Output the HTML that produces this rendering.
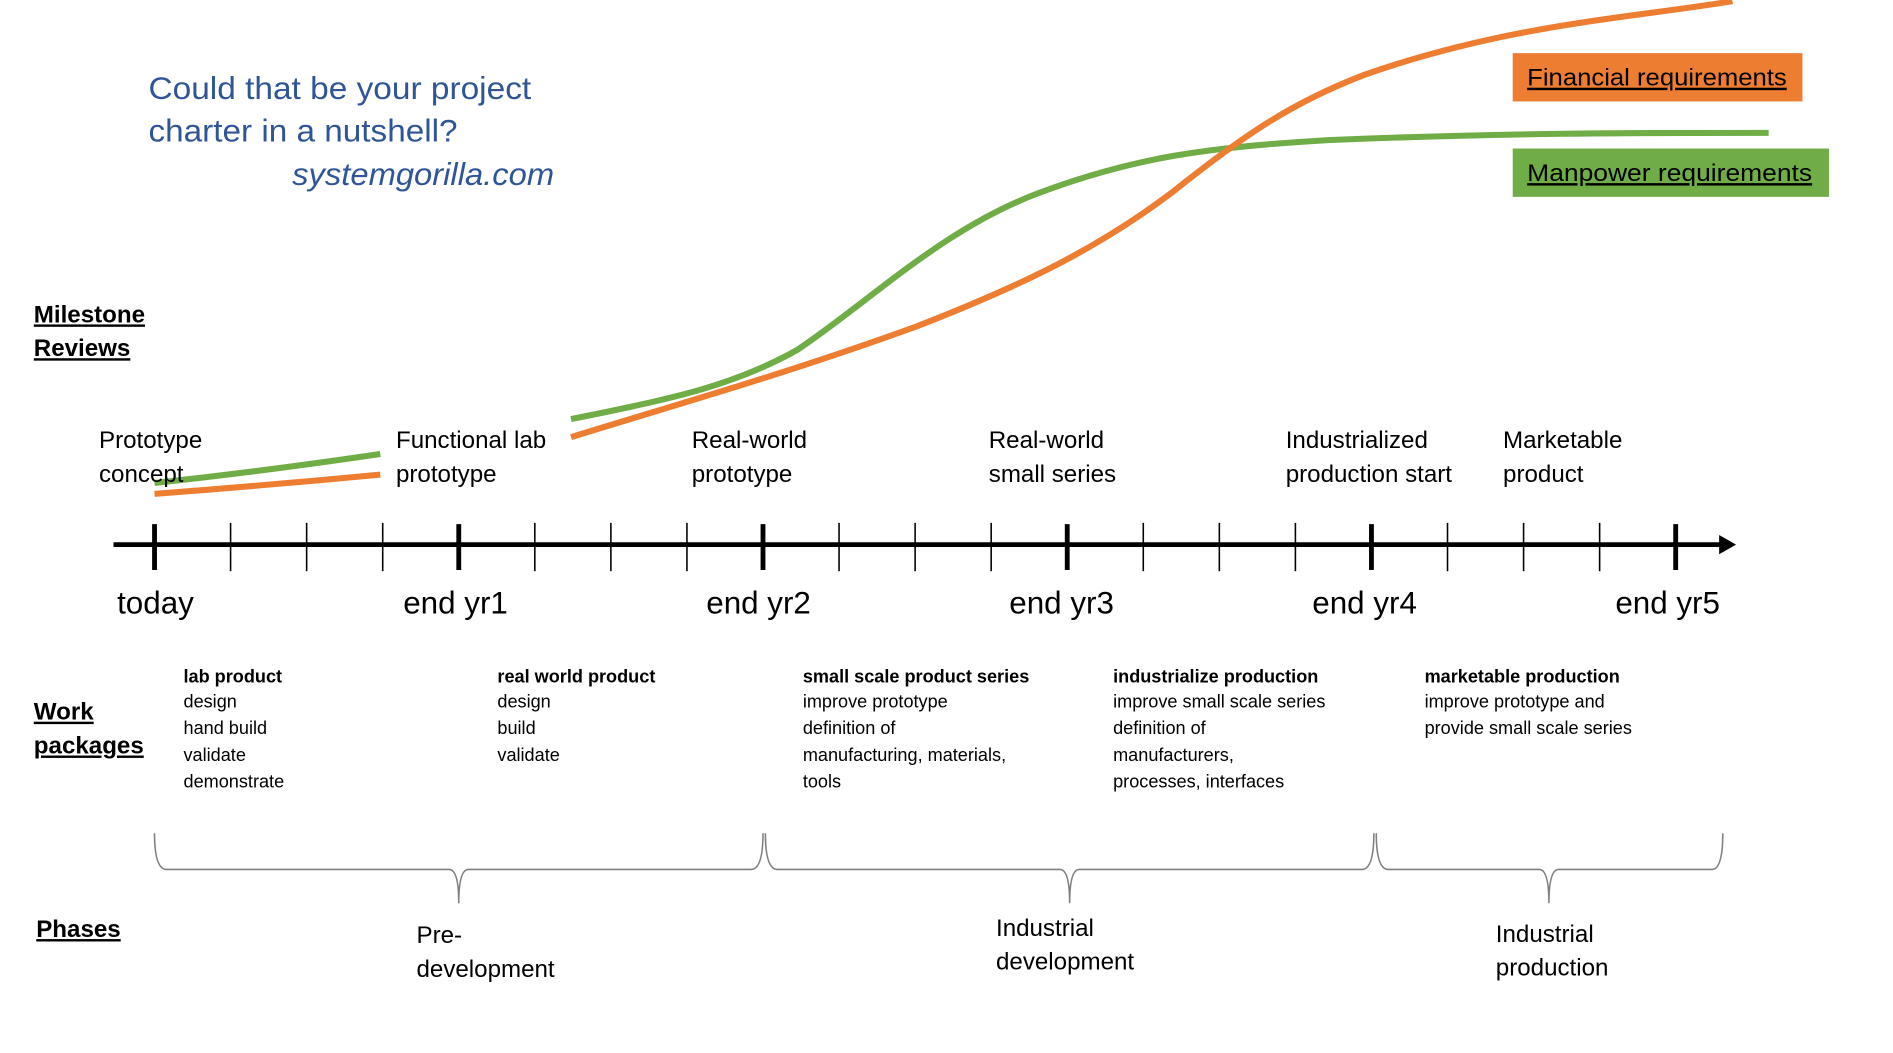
<!DOCTYPE html>
<html><head><meta charset="utf-8"><style>
html,body{margin:0;padding:0;background:#fff;}
svg{display:block;}
text{font-family:"Liberation Sans",sans-serif;}
</style></head><body>
<svg width="1893" height="1053" viewBox="0 0 1568 872" preserveAspectRatio="none" xmlns="http://www.w3.org/2000/svg">
<rect width="1568" height="872" fill="#fff"/>
<g fill="#2f5597" font-size="26">
<text x="123" y="82" textLength="317" lengthAdjust="spacingAndGlyphs">Could that be your project</text>
<text x="123" y="117" textLength="256" lengthAdjust="spacingAndGlyphs">charter in a nutshell?</text>
<text x="242" y="153" font-style="italic" textLength="217" lengthAdjust="spacingAndGlyphs">systemgorilla.com</text>
</g>
<rect x="1253" y="44" width="240" height="40" fill="#ed7d31"/>
<text x="1265" y="71" font-size="20" text-decoration="underline" fill="#000" textLength="215" lengthAdjust="spacingAndGlyphs">Financial requirements</text>
<rect x="1253" y="123" width="262" height="40" fill="#70ad47"/>
<text x="1265" y="150" font-size="20" text-decoration="underline" fill="#000" textLength="236" lengthAdjust="spacingAndGlyphs">Manpower requirements</text>
<g fill="none" stroke-width="5">
<path d="M128,400 Q220,390 315,376" stroke="#70ad47"/>
<path d="M128,409 Q220,402 315,393" stroke="#ed7d31"/>
<path d="M473,347 C560,330 610,318 660,290 C720,250 780,190 860,160 C940,130 1000,122 1100,116 C1250,110 1350,110 1465,110" stroke="#70ad47"/>
<path d="M473,362 C560,335 650,310 760,270 C850,235 910,205 970,160 C1030,112 1070,85 1130,62 C1250,20 1350,15 1435,1" stroke="#ed7d31"/>
</g>
<g font-size="20" font-weight="bold" fill="#000" text-decoration="underline">
<text x="28" y="267">Milestone</text>
<text x="28" y="295">Reviews</text>
<text x="28" y="596">Work</text>
<text x="28" y="624">packages</text>
<text x="30" y="776">Phases</text>
</g>
<g font-size="20" fill="#000">
<text x="82" y="371">Prototype</text><text x="82" y="399">concept</text>
<text x="328" y="371">Functional lab</text><text x="328" y="399">prototype</text>
<text x="573" y="371">Real-world</text><text x="573" y="399">prototype</text>
<text x="819" y="371">Real-world</text><text x="819" y="399">small series</text>
<text x="1065" y="371">Industrialized</text><text x="1065" y="399">production start</text>
<text x="1245" y="371">Marketable</text><text x="1245" y="399">product</text>
<text x="345" y="781">Pre-</text><text x="345" y="809">development</text>
<text x="825" y="775">Industrial</text><text x="825" y="803">development</text>
<text x="1239" y="780">Industrial</text><text x="1239" y="808">production</text>
</g>
<line x1="94" y1="451" x2="1426" y2="451" stroke="#000" stroke-width="4"/>
<polygon points="1424,443 1438,451 1424,459" fill="#000"/>
<g stroke="#000" stroke-width="4">
<line x1="128" y1="434" x2="128" y2="472"/><line x1="380" y1="434" x2="380" y2="472"/>
<line x1="632" y1="434" x2="632" y2="472"/><line x1="884" y1="434" x2="884" y2="472"/>
<line x1="1136" y1="434" x2="1136" y2="472"/><line x1="1388" y1="434" x2="1388" y2="472"/>
</g>
<g stroke="#000" stroke-width="1.3">
<line x1="191" y1="433" x2="191" y2="473"/><line x1="254" y1="433" x2="254" y2="473"/><line x1="317" y1="433" x2="317" y2="473"/>
<line x1="443" y1="433" x2="443" y2="473"/><line x1="506" y1="433" x2="506" y2="473"/><line x1="569" y1="433" x2="569" y2="473"/>
<line x1="695" y1="433" x2="695" y2="473"/><line x1="758" y1="433" x2="758" y2="473"/><line x1="821" y1="433" x2="821" y2="473"/>
<line x1="947" y1="433" x2="947" y2="473"/><line x1="1010" y1="433" x2="1010" y2="473"/><line x1="1073" y1="433" x2="1073" y2="473"/>
<line x1="1199" y1="433" x2="1199" y2="473"/><line x1="1262" y1="433" x2="1262" y2="473"/><line x1="1325" y1="433" x2="1325" y2="473"/>
</g>
<g font-size="26" fill="#000">
<text x="97" y="508">today</text><text x="334" y="508">end yr1</text><text x="585" y="508">end yr2</text>
<text x="836" y="508">end yr3</text><text x="1087" y="508">end yr4</text><text x="1338" y="508">end yr5</text>
</g>
<g font-size="15" fill="#000">
<text x="152" y="565" font-weight="bold">lab product</text>
<text x="152" y="586">design</text><text x="152" y="608">hand build</text><text x="152" y="630">validate</text><text x="152" y="652">demonstrate</text>
<text x="412" y="565" font-weight="bold">real world product</text>
<text x="412" y="586">design</text><text x="412" y="608">build</text><text x="412" y="630">validate</text>
<text x="665" y="565" font-weight="bold">small scale product series</text>
<text x="665" y="586">improve prototype</text><text x="665" y="608">definition of</text><text x="665" y="630">manufacturing, materials,</text><text x="665" y="652">tools</text>
<text x="922" y="565" font-weight="bold">industrialize production</text>
<text x="922" y="586">improve small scale series</text><text x="922" y="608">definition of</text><text x="922" y="630">manufacturers,</text><text x="922" y="652">processes, interfaces</text>
<text x="1180" y="565" font-weight="bold">marketable production</text>
<text x="1180" y="586">improve prototype and</text><text x="1180" y="608">provide small scale series</text>
</g>
<g fill="none" stroke="#7f7f7f" stroke-width="1.3">
<path d="M128,690 Q128,720 138,720 L372,720 Q380,720 380,748 Q380,720 388,720 L622,720 Q632,720 632,690"/>
<path d="M634,690 Q634,720 644,720 L878,720 Q886,720 886,748 Q886,720 894,720 L1128,720 Q1138,720 1138,690"/>
<path d="M1140,690 Q1140,720 1150,720 L1275,720 Q1283,720 1283,748 Q1283,720 1291,720 L1418,720 Q1427,720 1427,690"/>
</g>
</svg>
</body></html>
